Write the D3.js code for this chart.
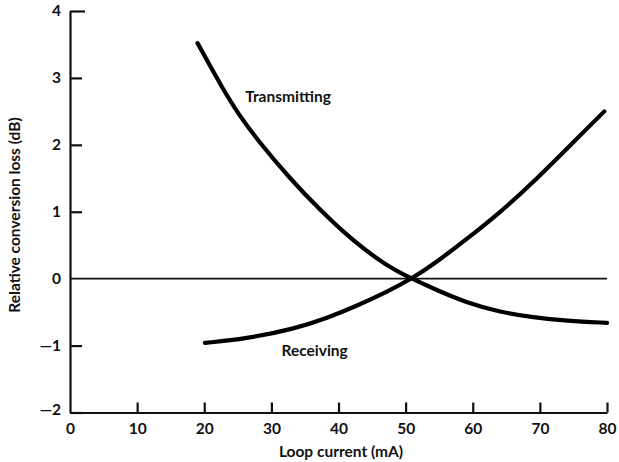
<!DOCTYPE html>
<html>
<head>
<meta charset="utf-8">
<script src="https://cdn.jsdelivr.net/npm/d3@7"></script>
<style>
  html, body { margin: 0; padding: 0; background: #fff; }
  svg { display: block; }
  text { font-family: "Lato", "DejaVu Sans", sans-serif; font-weight: 700; fill: #111; }
</style>
</head>
<body>
<svg id="chart" width="619" height="462"></svg>
<script>
// Data
const transmittingX = [19, 22.9, 25.3, 27.8, 32.8, 37.3, 42.2, 47.2, 50.9, 54.6, 59.1, 64.1, 69, 74, 80];
const transmittingY = [3.52, 2.81, 2.43, 2.09, 1.49, 1.02, 0.56, 0.19, 0, -0.17, -0.36, -0.50, -0.58, -0.63, -0.66];
const receivingX = [20.1, 26.1, 33.5, 38.5, 42.2, 47.2, 50.9, 54.1, 59.1, 64.1, 69, 74, 79.6];
const receivingY = [-0.96, -0.90, -0.75, -0.58, -0.43, -0.20, 0, 0.21, 0.59, 0.99, 1.44, 1.94, 2.50];
const xTicks = [0, 10, 20, 30, 40, 50, 60, 70, 80];
const yTicks = [-2, -1, 0, 1, 2, 3, 4];
const xLabel = "Loop current (mA)";
const yLabel = "Relative conversion loss (dB)";
const seriesNames = ["Transmitting", "Receiving"];

const svg = d3.select("#chart");
const x = d3.scaleLinear().domain([0, 80]).range([70, 607]);
const y = d3.scaleLinear().domain([-2, 4]).range([412.5, 11]);

const fmtY = d => d < 0 ? "\u2014" + Math.abs(d) : String(d);

// y axis
const yAxis = svg.append("g")
  .attr("transform", `translate(${x(0)},0)`)
  .call(d3.axisLeft(y).tickValues(yTicks).tickFormat(fmtY).tickSizeInner(-12).tickSizeOuter(0).tickPadding(9));
yAxis.select(".domain").attr("stroke", "#111").attr("stroke-width", 2.2);
yAxis.selectAll(".tick line").attr("stroke", "#111").attr("stroke-width", 2.2);
yAxis.selectAll(".tick").filter(d => d === 4).select("line").attr("x2", 15);
yAxis.selectAll(".tick").filter(d => d === 0).select("line").remove();
yAxis.selectAll(".tick text").style("font-size", "15.5px").attr("fill", "#111");
yAxis.selectAll(".tick").filter(d => d === -2).select("text").attr("dy", "0.1em");

// x axis
const xAxis = svg.append("g")
  .attr("transform", `translate(0,${y(-2)})`)
  .call(d3.axisBottom(x).tickValues(xTicks).tickFormat(d3.format("d")).tickSizeInner(-10).tickSizeOuter(0).tickPadding(10));
xAxis.select(".domain").attr("stroke", "#111").attr("stroke-width", 2.2);
xAxis.selectAll(".tick line").attr("stroke", "#111").attr("stroke-width", 2.2);
xAxis.selectAll(".tick").filter(d => d === 0).select("line").remove();
xAxis.selectAll(".tick text").style("font-size", "15.5px").attr("fill", "#111");

// zero line
svg.append("line")
  .attr("x1", x(0)).attr("x2", x(80))
  .attr("y1", y(0)).attr("y2", y(0))
  .attr("stroke", "#111").attr("stroke-width", 1.8);

// curves
const line = d3.line().x(d => x(d[0])).y(d => y(d[1])).curve(d3.curveBasis);
const tData = transmittingX.map((v, i) => [v, transmittingY[i]]);
const rData = receivingX.map((v, i) => [v, receivingY[i]]);
[tData, rData].forEach(dat => {
  svg.append("path").datum(dat)
    .attr("d", line)
    .attr("fill", "none")
    .attr("stroke", "#000")
    .attr("stroke-width", 4.2)
    .attr("stroke-linecap", "round")
    .attr("stroke-linejoin", "round");
});

// series labels
svg.append("text").attr("x", x(26.1)).attr("y", y(2.64))
  .style("font-size", "15.5px").text(seriesNames[0]);
svg.append("text").attr("x", x(31.5)).attr("y", y(-1.16))
  .style("font-size", "15.5px").text(seriesNames[1]);

// axis titles
svg.append("text").attr("x", 341).attr("y", 457)
  .attr("text-anchor", "middle").style("font-size", "15.5px").text(xLabel);
svg.append("text")
  .attr("transform", "translate(20,215) rotate(-90)")
  .attr("text-anchor", "middle").style("font-size", "15.5px").text(yLabel);
</script>
</body>
</html>
